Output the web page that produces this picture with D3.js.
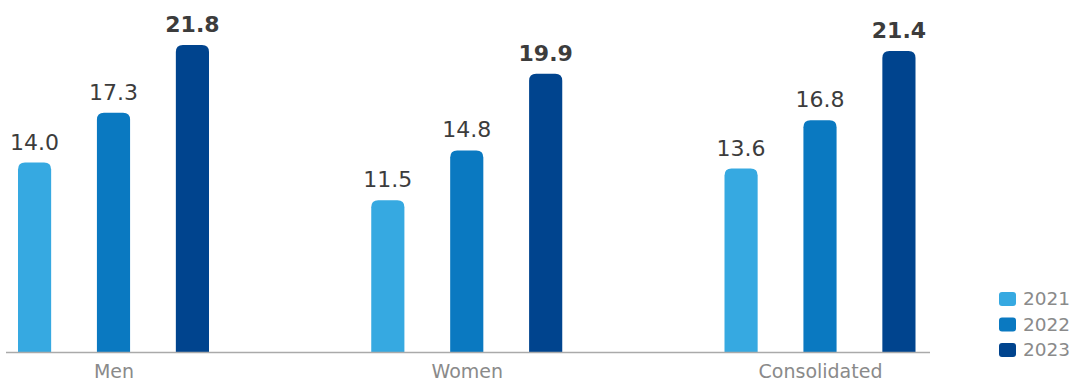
<!DOCTYPE html>
<html><head><meta charset="utf-8">
<script src="https://cdn.jsdelivr.net/npm/d3@7"></script>
<style>body{margin:0;background:#fff}svg{display:block;font-family:"DejaVu Sans",Verdana,sans-serif}</style>
</head><body>
<svg id="c" width="1070" height="382"></svg>
<script>
const categories = ["Men", "Women", "Consolidated"];
const years = ["2021", "2022", "2023"];
const v2021 = [14.0, 11.5, 13.6];
const v2022 = [17.3, 14.8, 16.8];
const v2023 = [21.8, 19.9, 21.4];
const colors = ["#36a9e1", "#0a79c1", "#00448e"];

const series = [v2021, v2022, v2023];
const svg = d3.select("#c");
const baseY = 352;

const x0 = d3.scalePoint().domain(categories).range([113.5, 820]);
const x1 = d3.scaleBand().domain(years).range([-95.5, 95.5]).paddingInner(0.58);
const y = d3.scaleLinear().domain([1.43, 21.8]).range([baseY, 45]);

function topRounded(x, yt, w, h, r) {
  return `M${x},${yt + h}V${yt + r}Q${x},${yt} ${x + r},${yt}H${x + w - r}Q${x + w},${yt} ${x + w},${yt + r}V${yt + h}Z`;
}

categories.forEach((cat, ci) => {
  const g = svg.append("g").attr("transform", `translate(${x0(cat)},0)`);
  years.forEach((yr, yi) => {
    const v = series[yi][ci];
    const bx = x1(yr), bw = x1.bandwidth();
    const yt = y(v);
    g.append("path").attr("d", topRounded(bx, yt, bw, baseY - yt, 7)).attr("fill", colors[yi]);
    g.append("text").attr("x", bx + bw / 2).attr("y", yt - 13)
      .attr("text-anchor", "middle").attr("font-size", 22)
      .attr("font-weight", yi === 2 ? "bold" : "normal")
      .attr("fill", "#3c3c3c").text(v.toFixed(1));
  });
});

svg.append("line").attr("x1", 6).attr("x2", 930).attr("y1", baseY + 0.5).attr("y2", baseY + 0.5)
  .attr("stroke", "#aaaaaa").attr("stroke-width", 1.5);

const xAxis = d3.axisBottom(x0).tickSize(0).tickPadding(13);
const ax = svg.append("g").attr("transform", `translate(0,${baseY})`).call(xAxis);
ax.select(".domain").remove();
ax.selectAll("text").attr("font-size", 19).attr("fill", "#8a8a8a").attr("font-family", "DejaVu Sans, Verdana, sans-serif");

const leg = svg.append("g");
years.forEach((yr, i) => {
  const ly = 292 + i * 25.5;
  leg.append("rect").attr("x", 999).attr("y", ly).attr("width", 17).attr("height", 14).attr("rx", 3).attr("fill", colors[i]);
  leg.append("text").attr("x", 1023).attr("y", ly + 13).attr("font-size", 18.5).attr("fill", "#8a8a8a").text(yr);
});
</script>
</body></html>
